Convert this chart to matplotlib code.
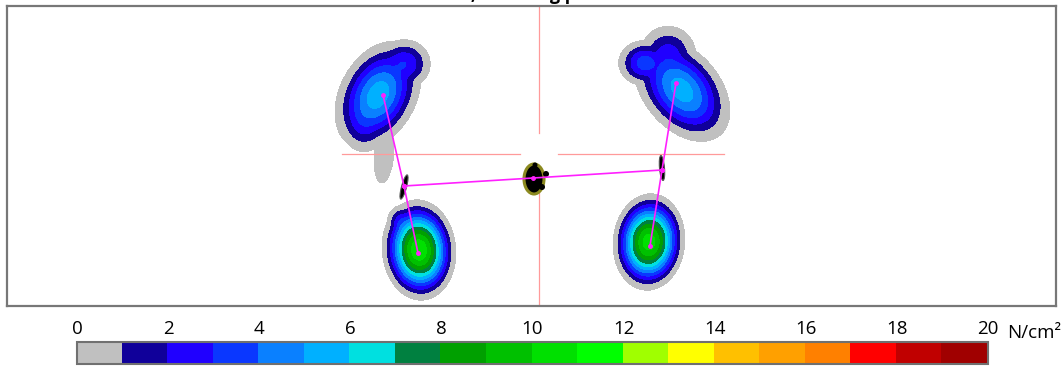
import numpy as np
import matplotlib
matplotlib.use("Agg")
import matplotlib as mpl
import matplotlib.pyplot as plt
from matplotlib.colors import ListedColormap, BoundaryNorm
from matplotlib.patches import Ellipse

plt.rcParams['font.family'] = ['Open Sans', 'DejaVu Sans']

# pressure scale, N/cm2 - one colour per 1 N/cm2 band
scale_ticks = [0, 2, 4, 6, 8, 10, 12, 14, 16, 18, 20]
band_colors = ['#c0c0c0', '#10009a', '#2000ff', '#0a37ff', '#0a80ff',
               '#00b0ff', '#00e0e0', '#008040', '#00a000', '#00c000',
               '#00e000', '#00ff00', '#a0ff00', '#ffff00', '#ffc000',
               '#ffa000', '#ff8000', '#ff0000', '#c00000', '#a00000']

# pressure zones in image pixels: (x, y, rx, ry, angle deg, peak N/cm2)
left_forefoot = [(378, 95, 40, 60, 28, 5.6),
                 (404, 64, 28, 26, 0, 3.0),
                 (364, 120, 26, 34, 0, 2.6),
                 (384, 155, 11, 32, 5, 0.9)]
right_forefoot = [(682, 90, 40, 62, -40, 5.5),
                  (645, 63, 28, 24, 0, 3.5),
                  (668, 56, 30, 32, 0, 2.6)]
left_heel = [(419, 250, 38, 52, -5, 10.8),
             (402, 224, 16, 20, 0, 3.0)]
right_heel = [(649, 242, 37, 50, 5, 10.5)]

# centre of pressure path (pixels)
left_cop_x = [383, 404, 418]
left_cop_y = [95, 186, 253]
right_cop_x = [676, 662, 650]
right_cop_y = [83, 170, 246]
body_cop_x = [404, 533, 662]
body_cop_y = [186, 178, 170]

# reference cross
cross_x = 539
cross_y = 154
cross_h = [(342, 520), (558, 724)]
cross_v = [(6, 133), (170, 306)]


def zone_field(X, Y, bumps, p=4):
    acc = np.zeros_like(X)
    for cx, cy, rx, ry, ang, peak in bumps:
        t = np.radians(ang)
        dx, dy = X - cx, Y - cy
        u = (dx * np.cos(t) + dy * np.sin(t)) / rx
        v = (-dx * np.sin(t) + dy * np.cos(t)) / ry
        s = np.clip(1 - u * u - v * v, 0, None)
        acc += (peak * s ** 2) ** p
    return acc ** (1.0 / p)


fig = plt.figure(figsize=(10.62, 3.67), dpi=100)
ax = fig.add_axes([7 / 1062, 1 - 306 / 367, 1049 / 1062, 300 / 367])

xs = np.arange(300, 760, 0.5)
ys = np.arange(0, 310, 0.5)
X, Y = np.meshgrid(xs, ys)
Z = np.zeros_like(X)
for zone in [left_forefoot, right_forefoot, left_heel, right_heel]:
    Z = np.maximum(Z, zone_field(X, Y, zone))

fill_levels = [0.05] + list(range(1, 21))
ax.contourf(X, Y, Z, levels=fill_levels, colors=band_colors)

cross_kw = dict(color='#ff9a9a', lw=0.9, zorder=2)
for a, b in cross_h:
    ax.plot([a, b], [cross_y, cross_y], **cross_kw)
for a, b in cross_v:
    ax.plot([cross_x, cross_x], [a, b], **cross_kw)

# sensor markers
ax.add_patch(Ellipse((404, 187), 5, 25, angle=15, fc='black', ec='#555555', lw=0.8, zorder=3))
ax.add_patch(Ellipse((662, 168), 5, 25, angle=-5, fc='black', ec='#555555', lw=0.8, zorder=3))
ax.add_patch(Ellipse((534, 179), 20, 30, fc='black', ec='#8c8a20', lw=2.2, zorder=3))
for px, py, r in [(546, 174, 3), (542, 187, 3), (535, 165, 2.5)]:
    ax.add_patch(Ellipse((px, py), 2 * r, 2 * r, fc='black', ec='none', zorder=3))

mag = '#ff20ff'
ax.plot(left_cop_x, left_cop_y, color=mag, lw=1.2, zorder=4, marker='o', ms=2.5)
ax.plot(right_cop_x, right_cop_y, color=mag, lw=1.2, zorder=4, marker='o', ms=2.5)
ax.plot(body_cop_x, body_cop_y, color=mag, lw=1.2, zorder=4, marker='o', ms=2.5)

ax.set_xlim(7, 1056)
ax.set_ylim(306, 6)
ax.set_xticks([])
ax.set_yticks([])
for sp in ax.spines.values():
    sp.set_edgecolor('#777777')
    sp.set_linewidth(1.6)

fig.text(0.5, 1.0, 'Static, Standing pressure', ha='center', va='baseline',
         fontsize=13, fontweight='bold')

# colour scale
cax = fig.add_axes([77 / 1062, 1 - 364 / 367, 911 / 1062, 22 / 367])
cmap = ListedColormap(band_colors)
norm = BoundaryNorm(list(range(0, 21)), cmap.N)
cb = mpl.colorbar.ColorbarBase(cax, cmap=cmap, norm=norm, orientation='horizontal',
                               ticks=scale_ticks)
cb.solids.set_edgecolor('face')
cb.solids.set_antialiased(False)
cax.xaxis.set_ticks_position('top')
cax.minorticks_off()
cax.tick_params(which='both', length=0, pad=3, labelsize=13.5)
cb.outline.set_edgecolor('#707070')
cb.outline.set_linewidth(1.5)
fig.text(1007 / 1062, 1 - 338 / 367, 'N/cm²', fontsize=13.5, ha='left', va='baseline')

fig.savefig('out.png', dpi=100)
